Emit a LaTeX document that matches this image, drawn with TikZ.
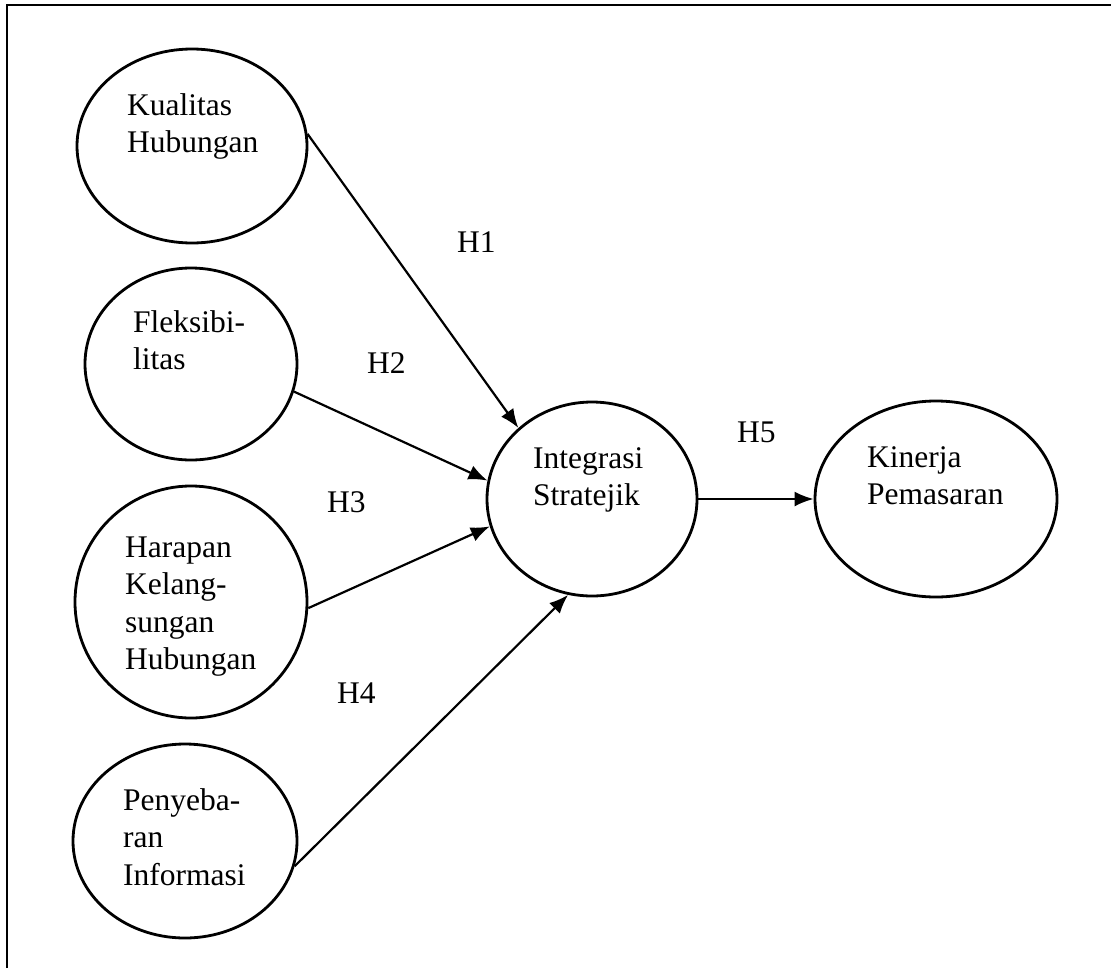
\documentclass[tikz,border=0pt]{standalone}
\usepackage{fontspec}
\setmainfont{Liberation Serif}
\usetikzlibrary{arrows.meta,shapes.geometric}
\begin{document}
\begin{tikzpicture}[x=1pt,y=-1pt,
  every node/.style={font=\fontsize{31.5}{37.5}\selectfont},
  construct/.style={draw, ellipse, line width=2.8pt, inner sep=0pt},
  caption/.style={anchor=base west, inner sep=0pt},
  hyp/.style={anchor=base west, inner sep=0pt},
  path/.style={line width=2.2pt, -{Latex[length=19pt,width=15pt]}}]
\useasboundingbox (0,0) rectangle (1111,972);

% frame: top and left edges
\draw[line width=2.8pt] (7,968) -- (7,5) -- (1111,5);

% constructs
\node[construct, minimum width=230pt, minimum height=194pt] (kh) at (192,146) {};
\node[construct, minimum width=212pt, minimum height=192pt] (fl) at (191,364) {};
\node[construct, minimum width=232pt, minimum height=232pt] (hk) at (191,602) {};
\node[construct, minimum width=224pt, minimum height=194pt] (pi) at (185,841) {};
\node[construct, minimum width=210pt, minimum height=194pt] (is) at (592,499) {};
\node[construct, minimum width=242pt, minimum height=196pt] (kp) at (936,499) {};

% construct names
\node[caption] (khtext) at (127,115) {\begin{tabular}[t]{@{}l@{}}Kualitas\\Hubungan\end{tabular}};
\node[caption] (fltext) at (133,332) {\begin{tabular}[t]{@{}l@{}}Fleksibi-\\litas\end{tabular}};
\node[caption] (hktext) at (125,557) {\begin{tabular}[t]{@{}l@{}}Harapan\\Kelang-\\sungan\\Hubungan\end{tabular}};
\node[caption] (pitext) at (123,810) {\begin{tabular}[t]{@{}l@{}}Penyeba-\\ran\\Informasi\end{tabular}};
\node[caption] (istext) at (533,468) {\begin{tabular}[t]{@{}l@{}}Integrasi\\Stratejik\end{tabular}};
\node[caption] (kptext) at (867,467) {\begin{tabular}[t]{@{}l@{}}Kinerja\\Pemasaran\end{tabular}};

% hypothesis paths
\draw[path] (kh.6) -- (is.136);
\draw[path] (fl.-15) -- (is.170);
\draw[path] (hk.-3) -- (is.195);
\draw[path] (pi.-13) -- (is.256);
\draw[path] (is.east) -- (kp.west);

% hypothesis labels
\node[hyp] (h1) at (457,252) {H1};
\node[hyp] (h2) at (367,373) {H2};
\node[hyp] (h3) at (327,512) {H3};
\node[hyp] (h4) at (337,703) {H4};
\node[hyp] (h5) at (737,442) {H5};
\end{tikzpicture}
\end{document}
